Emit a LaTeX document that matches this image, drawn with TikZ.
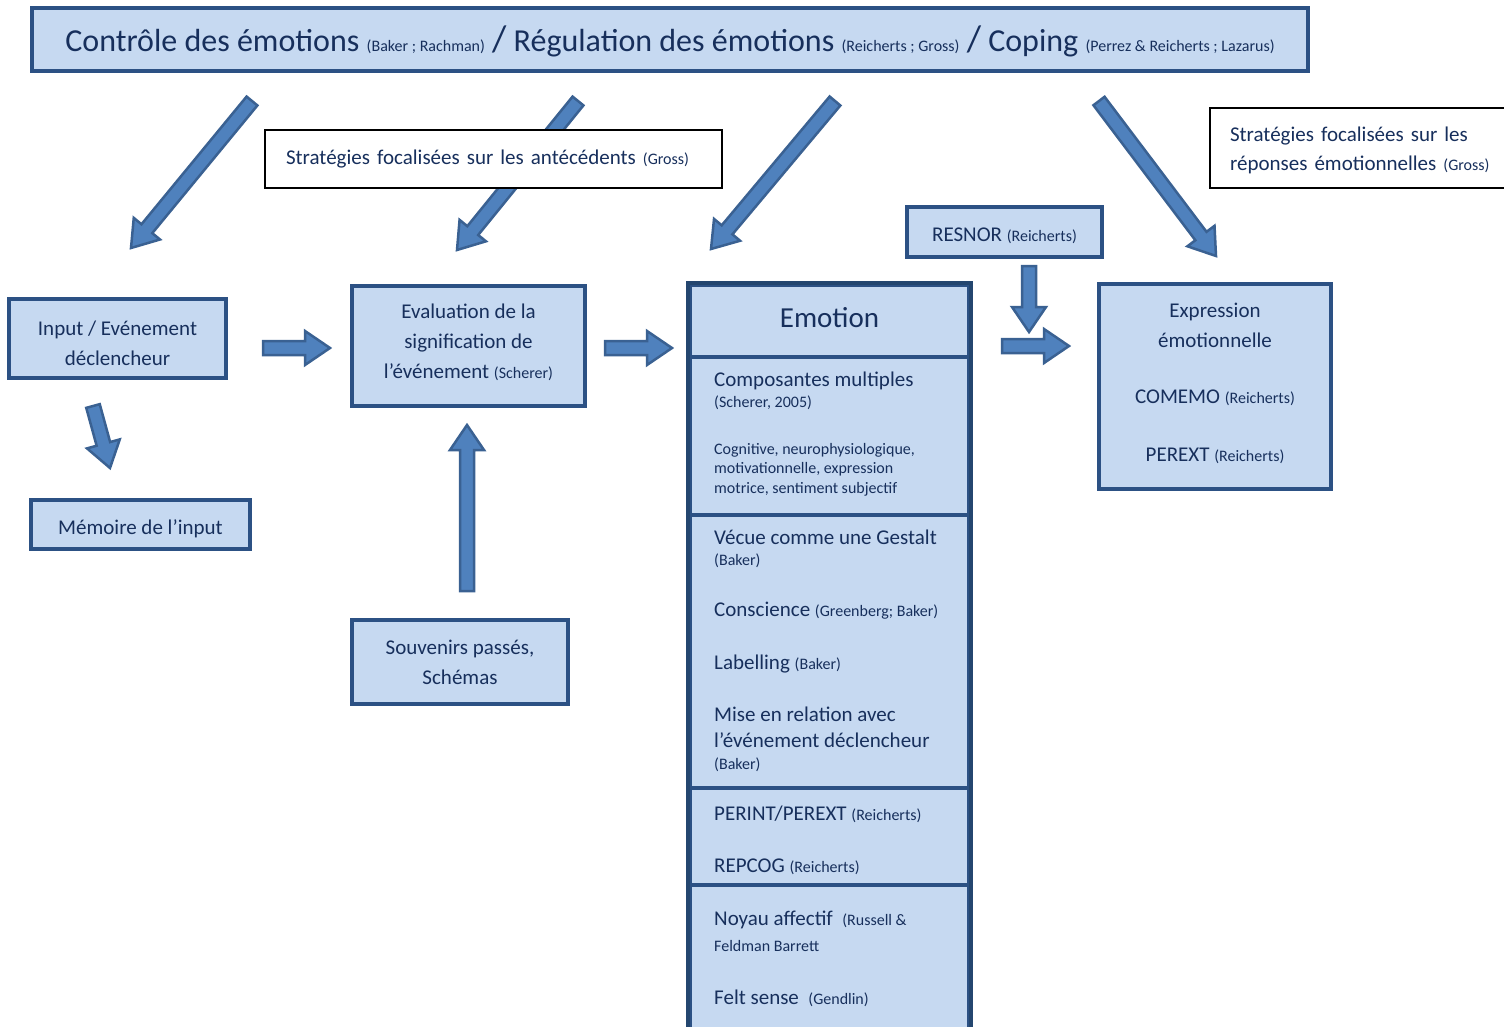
\documentclass[tikz,border=0pt]{standalone}
\usepackage{fontspec}
\setmainfont{Carlito}
\usetikzlibrary{calc}

\definecolor{boxfill}{HTML}{C6D9F1}
\definecolor{boxline}{HTML}{2C5184}
\definecolor{colline}{HTML}{24466F}
\definecolor{arrowfill}{HTML}{4F81BD}
\definecolor{arrowline}{HTML}{3A6192}
\definecolor{navy}{HTML}{172F5C}

\newcommand{\auth}[1]{{\fontsize{16}{18}\selectfont #1}}
\newcommand{\bigslash}{{\fontsize{37}{37}\selectfont /}}
\newcommand{\padtop}[1]{\rule{0pt}{#1}}
\newcommand{\padbot}[1]{\rule[-#1]{0pt}{#1}}

\tikzset{
  box/.style={draw=boxline, fill=boxfill, line width=4pt, text=navy, align=center,
    inner sep=0pt, font=\fontsize{21}{30}\selectfont},
  stratbox/.style={draw=black, fill=white, line width=2pt, text=navy, align=left,
    inner ysep=0pt, font=\fontsize{21}{29}\selectfont},
  item/.style={anchor=base west, inner sep=0pt, text=navy, font=\fontsize{21}{26}\selectfont},
  smallitem/.style={item, font=\fontsize{16}{18}\selectfont},
  fatarrow/.style={draw=arrowline, fill=arrowfill, line width=2.5pt, line join=miter,
    to path={let \p1=(\tikztostart), \p2=(\tikztotarget), \n1={atan2(\y2-\y1,\x2-\x1)} in
      ($(\p1)+(\n1+90:7pt)$) -- ($(\p2)+(\n1+180:25pt)+(\n1+90:7pt)$)
      -- ($(\p2)+(\n1+180:25pt)+(\n1+90:17pt)$) -- (\p2)
      -- ($(\p2)+(\n1+180:25pt)+(\n1-90:17pt)$) -- ($(\p2)+(\n1+180:25pt)+(\n1-90:7pt)$)
      -- ($(\p1)+(\n1-90:7pt)$) -- cycle}}
}

\begin{document}
\begin{tikzpicture}[x=1pt, y=-1pt]
  \useasboundingbox (0,0) rectangle (1504,1027);

  \node[box, minimum width=1276, minimum height=63, font=\fontsize{32}{36}\selectfont] (title) at (670,39.5)
    {\padtop{30pt}Contrôle des émotions \auth{(Baker ; Rachman)} \bigslash{} Régulation des émotions \auth{(Reicherts ; Gross)} \bigslash{} Coping \auth{(Perrez \& Reicherts ; Lazarus)}};

  \coordinate (d1s) at (252,101); \coordinate (d1e) at (131,248);
  \coordinate (d2s) at (578,101); \coordinate (d2e) at (457,250);
  \coordinate (d3s) at (835,101); \coordinate (d3e) at (711,249);
  \coordinate (d4s) at (1099,101); \coordinate (d4e) at (1216,256);
  \draw[fatarrow] (d1s) to (d1e);
  \draw[fatarrow] (d2s) to (d2e);
  \draw[fatarrow] (d3s) to (d3e);
  \draw[fatarrow] (d4s) to (d4e);

  \node[stratbox, minimum width=457, minimum height=58, text width=415, inner xsep=21] (antec) at (493.5,159)
    {Stratégies focalisées sur les antécédents \auth{(Gross)}};
  \node[stratbox, minimum width=305, minimum height=80, text width=265, inner xsep=20] (repon) at (1362.5,148)
    {\padtop{20pt}Stratégies focalisées sur les\\réponses émotionnelles \auth{(Gross)}};

  \node[box, minimum width=217, minimum height=79] (inp) at (117.5,338.5) {\padtop{24pt}Input / Evénement\\déclencheur};
  \node[box, minimum width=219, minimum height=49] (mem) at (140.5,524.5) {\padtop{24pt}Mémoire de l’input};
  \node[box, minimum width=233, minimum height=120] (eval) at (468.5,346)
    {Evaluation de la\\signification de\\l’événement \auth{(Scherer)}\padbot{10pt}};
  \node[box, minimum width=216, minimum height=84] (souv) at (460,662) {Souvenirs passés,\\Schémas};
  \node[box, minimum width=195, minimum height=50] (resnor) at (1004.5,232) {\padtop{22pt}RESNOR \auth{(Reicherts)}};
  \node[box, minimum width=232, minimum height=205] (expr) at (1215,386.5)
    {Expression\\émotionnelle\\[26pt]COMEMO \auth{(Reicherts)}\\[28pt]PEREXT \auth{(Reicherts)}\padbot{8pt}};

  \node[box, minimum width=279, minimum height=158] (sec1) at (829.5,436) {};
  \node[box, minimum width=279, minimum height=273] (sec2) at (829.5,651.5) {};
  \node[box, minimum width=279, minimum height=97] (sec3) at (829.5,836.5) {};
  \node[box, minimum width=279, minimum height=155] (sec4) at (829.5,962.5) {};
  \node[box, minimum width=279, minimum height=72, font=\fontsize{29}{32}\selectfont] (emo) at (829.5,321) {Emotion\padbot{8pt}};
  \draw[colline, line width=4.5pt] (emo.north west) rectangle (sec4.south east);

  \node[item] (comp) at (714,386) {Composantes multiples};
  \node[smallitem] (comp2) at (714,407) {(Scherer, 2005)};
  \node[smallitem] (cog1) at (714,454) {Cognitive, neurophysiologique,};
  \node[smallitem] (cog2) at (714,473) {motivationnelle, expression};
  \node[smallitem] (cog3) at (714,493) {motrice, sentiment subjectif};
  \node[item] (gest) at (714,544) {Vécue comme une Gestalt};
  \node[smallitem] (gest2) at (714,565) {(Baker)};
  \node[item] (consc) at (714,616) {Conscience \auth{(Greenberg; Baker)}};
  \node[item] (label) at (714,669) {Labelling \auth{(Baker)}};
  \node[item] (mise1) at (714,721) {Mise en relation avec};
  \node[item] (mise2) at (714,747) {l’événement déclencheur};
  \node[smallitem] (mise3) at (714,769) {(Baker)};
  \node[item] (perint) at (714,820) {PERINT/PEREXT \auth{(Reicherts)}};
  \node[item] (repcog) at (714,872) {REPCOG \auth{(Reicherts)}};
  \node[item] (noyau) at (714,925) {Noyau affectif \ \auth{(Russell \&}};
  \node[smallitem] (noyau2) at (714,951) {Feldman Barrett};
  \node[item] (felt) at (714,1004) {Felt sense \ \auth{(Gendlin)}};

  \coordinate (h1s) at (263,348); \coordinate (h1e) at (330,348);
  \coordinate (h2s) at (605,348); \coordinate (h2e) at (672,348);
  \coordinate (h3s) at (1002,346); \coordinate (h3e) at (1069,346);
  \coordinate (v1s) at (1029,266); \coordinate (v1e) at (1029,332);
  \coordinate (m1s) at (93,406); \coordinate (m1e) at (110,468);
  \coordinate (s1s) at (467,591); \coordinate (s1e) at (467,425);
  \draw[fatarrow] (h1s) to (h1e);
  \draw[fatarrow] (h2s) to (h2e);
  \draw[fatarrow] (v1s) to (v1e);
  \draw[fatarrow] (h3s) to (h3e);
  \draw[fatarrow] (m1s) to (m1e);
  \draw[fatarrow] (s1s) to (s1e);
\end{tikzpicture}
\end{document}
